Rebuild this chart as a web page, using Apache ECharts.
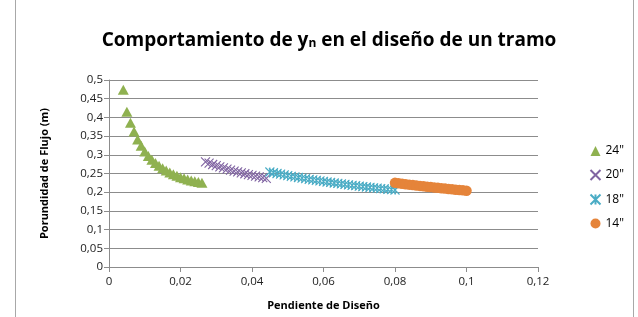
<!DOCTYPE html>
<html><head><meta charset="utf-8">
<script src="https://cdn.jsdelivr.net/npm/echarts@6/dist/echarts.min.js"></script>
<style>html,body{margin:0;padding:0;background:#fff}#c{width:638px;height:317px}</style>
</head><body><div id="c"></div>
<script>
const x24 = [0.004,0.005,0.006,0.007,0.008,0.009,0.010,0.011,0.012,0.013,0.014,0.015,0.016,0.017,0.018,0.019,0.020,0.021,0.022,0.023,0.024,0.025,0.026];
const y24 = [0.474,0.415,0.386,0.362,0.341,0.324,0.309,0.297,0.287,0.278,0.271,0.264,0.258,0.253,0.248,0.244,0.240,0.237,0.234,0.231,0.229,0.227,0.225];
const x20 = [0.027,0.028,0.029,0.030,0.031,0.032,0.033,0.034,0.035,0.036,0.037,0.038,0.039,0.040,0.041,0.042,0.043,0.044];
const y20 = [0.2810,0.2775,0.2741,0.2708,0.2677,0.2648,0.2619,0.2592,0.2566,0.2541,0.2517,0.2493,0.2471,0.2449,0.2428,0.2408,0.2388,0.2369];
const x18 = [0.045,0.046,0.047,0.048,0.049,0.050,0.051,0.052,0.053,0.054,0.055,0.056,0.057,0.058,0.059,0.060,0.061,0.062,0.063,0.064,0.065,0.066,0.067,0.068,0.069,0.070,0.071,0.072,0.073,0.074,0.075,0.076,0.077,0.078,0.079,0.080];
const y18 = [0.2540,0.2520,0.2500,0.2481,0.2462,0.2444,0.2426,0.2409,0.2393,0.2377,0.2360,0.2345,0.2330,0.2315,0.2301,0.2287,0.2273,0.2260,0.2246,0.2233,0.2221,0.2209,0.2197,0.2185,0.2173,0.2162,0.2151,0.2139,0.2129,0.2118,0.2108,0.2098,0.2088,0.2078,0.2069,0.2059];
const x14 = [0.080,0.081,0.082,0.083,0.084,0.085,0.086,0.087,0.088,0.089,0.090,0.091,0.092,0.093,0.094,0.095,0.096,0.097,0.098,0.099,0.100];
const y14 = [0.2250,0.2238,0.2226,0.2214,0.2202,0.2191,0.2180,0.2169,0.2158,0.2147,0.2136,0.2126,0.2116,0.2106,0.2096,0.2086,0.2077,0.2067,0.2058,0.2049,0.2040];
const seriesNames = ['24"','20"','18"','14"'];
const xTicks = {min:0, max:0.12, interval:0.02};
const yTicks = {min:0, max:0.5, interval:0.05};

const zip = (a,b)=>a.map((v,i)=>[v,b[i]]);
const fmt = v => String(+(+v).toFixed(3)).replace('.', ',');
const font = '"Open Sans", "Noto Sans", sans-serif';
const chart = echarts.init(document.getElementById('c'));
const axisGray = '#8c8c8c';
chart.setOption({
  animation:false,
  textStyle:{fontFamily:font},
  title:{
    text:'{t|Comportamiento de y}{s|n}{t| en el diseño de un tramo}',
    left:324, top:23, textAlign:'center',
    textStyle:{rich:{
      t:{fontSize:19,fontWeight:'bold',color:'#000',fontFamily:font,verticalAlign:'bottom'},
      s:{fontSize:12,fontWeight:'bold',color:'#000',fontFamily:font,padding:[10,0,0,0],verticalAlign:'bottom'}
    }}
  },
  legend:{
    orient:'vertical', left:588, top:144, padding:0, itemGap:9.5, itemWidth:10, itemHeight:10,
    textStyle:{fontSize:12,color:'#000',fontFamily:font,lineHeight:14},
    data:seriesNames
  },
  grid:{left:109, right:100, top:80, bottom:50},
  xAxis:{
    type:'value', min:xTicks.min, max:xTicks.max, interval:xTicks.interval,
    name:'Pendiente de Diseño', nameLocation:'middle', nameGap:33,
    nameTextStyle:{fontSize:11,fontWeight:'bold',color:'#000',fontFamily:font},
    axisLine:{show:true,onZero:false,lineStyle:{color:axisGray}},
    axisTick:{show:true,length:5,lineStyle:{color:axisGray}},
    axisLabel:{formatter:fmt,fontSize:11.5,color:'#222',margin:9,fontFamily:font},
    splitLine:{show:false}
  },
  yAxis:{
    type:'value', min:yTicks.min, max:yTicks.max, interval:yTicks.interval,
    name:'Porundidad de Flujo (m)', nameLocation:'middle', nameGap:59,
    nameTextStyle:{fontSize:11,fontWeight:'bold',color:'#000',fontFamily:font},
    axisLine:{show:true,onZero:false,lineStyle:{color:axisGray}},
    axisTick:{show:true,length:5,lineStyle:{color:axisGray}},
    axisLabel:{formatter:fmt,fontSize:11.5,color:'#222',margin:6,fontFamily:font},
    splitLine:{show:true,lineStyle:{color:'#8c8c8c',width:1}}
  },
  graphic:{elements:[
    {type:'line',z:100,silent:true,shape:{x1:15.5,y1:0,x2:15.5,y2:317},style:{stroke:'#a8a8a8',lineWidth:1}},
    {type:'line',z:100,silent:true,shape:{x1:633.5,y1:0,x2:633.5,y2:317},style:{stroke:'#a8a8a8',lineWidth:1}}
  ]},
  series:[
    {name:seriesNames[0],type:'scatter',data:zip(x24,y24),symbol:'triangle',symbolSize:[11,10],itemStyle:{color:'#8fb150',opacity:1}},
    {name:seriesNames[1],type:'scatter',data:zip(x20,y20),symbol:'path://M0,0 L10,10 M10,0 L0,10',symbolSize:9,itemStyle:{color:'none',borderColor:'#8064a2',borderWidth:1.1,opacity:1}},
    {name:seriesNames[2],type:'scatter',data:zip(x18,y18),symbol:'path://M0,0 L10,10 M10,0 L0,10 M5,0 L5,10',symbolSize:9,itemStyle:{color:'none',borderColor:'#4aacc5',borderWidth:1.1,opacity:1}},
    {name:seriesNames[3],type:'scatter',data:zip(x14,y14),symbol:'circle',symbolSize:10.5,itemStyle:{color:'#e5843a',opacity:1}}
  ]
});
</script></body></html>
